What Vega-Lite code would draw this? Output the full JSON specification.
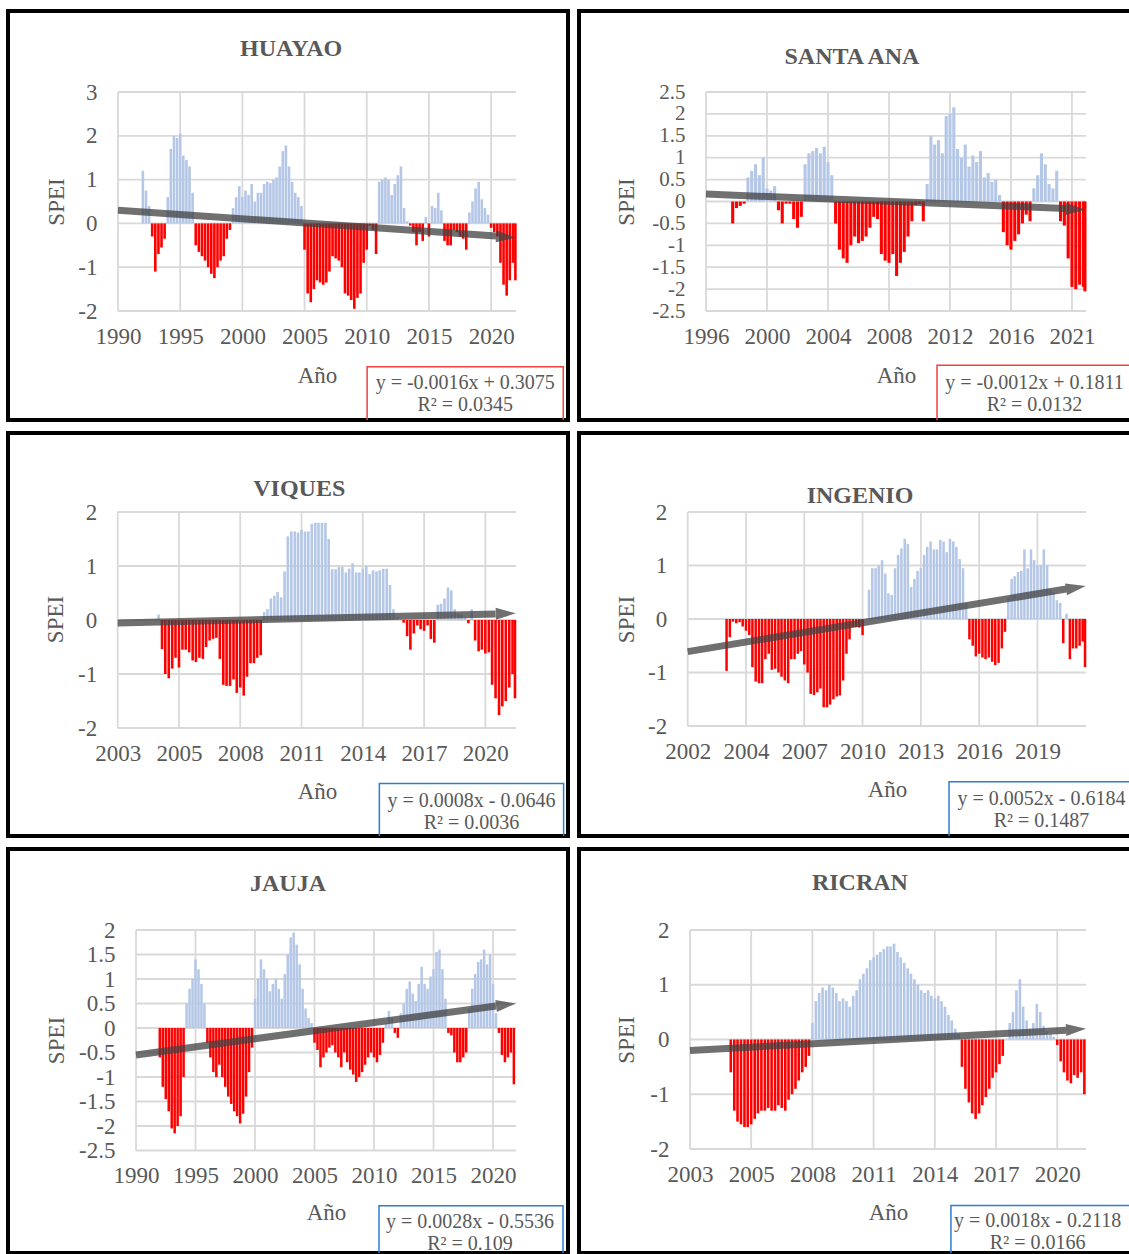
{
"$schema": "https://vega.github.io/schema/vega-lite/v6.json",
"background": "white",
"padding": {"left": 6, "top": 9, "right": 0, "bottom": 0},
"columns": 2,
"spacing": {"row": 13, "column": 11},
"align": "each",
"bounds": "flush",
"config": {
  "view": {"stroke": "#000000", "strokeWidth": 4},
  "axis": {"domain": false, "ticks": false, "tickSize": 0, "grid": false, "labelFont": "Liberation Serif", "labelFontSize": 23, "labelColor": "#595959", "titleFont": "Liberation Serif", "titleFontSize": 23, "titleFontWeight": "normal", "titleColor": "#595959", "labelFlush": false, "labelOverlap": false, "labelBound": false, "titleBaseline": "middle", "titleAlign": "center"},
  "axisX": {"labelPadding": 25, "labelBaseline": "middle"},
  "axisY": {"labelPadding": 21, "labelAlign": "right", "labelBaseline": "middle", "titleAngle": 270}
},
"datasets": {
"huayao": [{"t":1992.0,"v":1.2},{"t":1992.25,"v":0.75},{"t":1992.5,"v":0.4},{"t":1992.75,"v":-0.3},{"t":1993.0,"v":-1.1},{"t":1993.25,"v":-0.7},{"t":1993.5,"v":-0.55},{"t":1993.75,"v":-0.35},{"t":1994.0,"v":0.6},{"t":1994.25,"v":1.7},{"t":1994.5,"v":2.0},{"t":1994.75,"v":1.95},{"t":1995.0,"v":2.05},{"t":1995.25,"v":1.55},{"t":1995.5,"v":1.45},{"t":1995.75,"v":1.3},{"t":1996.0,"v":0.7},{"t":1996.25,"v":-0.5},{"t":1996.5,"v":-0.65},{"t":1996.75,"v":-0.75},{"t":1997.0,"v":-0.85},{"t":1997.25,"v":-1.0},{"t":1997.5,"v":-1.15},{"t":1997.75,"v":-1.25},{"t":1998.0,"v":-1.0},{"t":1998.25,"v":-0.85},{"t":1998.5,"v":-0.75},{"t":1998.75,"v":-0.35},{"t":1999.0,"v":-0.15},{"t":1999.25,"v":0.35},{"t":1999.5,"v":0.6},{"t":1999.75,"v":0.85},{"t":2000.0,"v":0.6},{"t":2000.25,"v":0.75},{"t":2000.5,"v":0.65},{"t":2000.75,"v":0.9},{"t":2001.0,"v":0.5},{"t":2001.25,"v":0.7},{"t":2001.5,"v":0.7},{"t":2001.75,"v":0.9},{"t":2002.0,"v":0.95},{"t":2002.25,"v":0.92},{"t":2002.5,"v":1.0},{"t":2002.75,"v":1.05},{"t":2003.0,"v":1.3},{"t":2003.25,"v":1.65},{"t":2003.5,"v":1.78},{"t":2003.75,"v":1.3},{"t":2004.0,"v":0.95},{"t":2004.25,"v":0.7},{"t":2004.5,"v":0.6},{"t":2004.75,"v":0.4},{"t":2005.0,"v":-0.6},{"t":2005.25,"v":-1.6},{"t":2005.5,"v":-1.8},{"t":2005.75,"v":-1.5},{"t":2006.0,"v":-1.3},{"t":2006.25,"v":-1.35},{"t":2006.5,"v":-1.4},{"t":2006.75,"v":-1.35},{"t":2007.0,"v":-1.1},{"t":2007.25,"v":-0.75},{"t":2007.5,"v":-0.8},{"t":2007.75,"v":-0.85},{"t":2008.0,"v":-1.0},{"t":2008.25,"v":-1.6},{"t":2008.5,"v":-1.65},{"t":2008.75,"v":-1.75},{"t":2009.0,"v":-1.95},{"t":2009.25,"v":-1.7},{"t":2009.5,"v":-1.6},{"t":2009.75,"v":-0.9},{"t":2010.0,"v":-0.6},{"t":2010.25,"v":-0.05},{"t":2010.5,"v":-0.15},{"t":2010.75,"v":-0.7},{"t":2011.0,"v":0.95},{"t":2011.25,"v":1.0},{"t":2011.5,"v":1.05},{"t":2011.75,"v":1.0},{"t":2012.0,"v":0.65},{"t":2012.25,"v":0.9},{"t":2012.5,"v":1.1},{"t":2012.75,"v":1.3},{"t":2013.0,"v":0.35},{"t":2013.25,"v":0.05},{"t":2013.5,"v":-0.05},{"t":2013.75,"v":-0.2},{"t":2014.0,"v":-0.5},{"t":2014.25,"v":-0.2},{"t":2014.5,"v":-0.4},{"t":2014.75,"v":0.15},{"t":2015.0,"v":-0.3},{"t":2015.25,"v":0.4},{"t":2015.5,"v":0.35},{"t":2015.75,"v":0.7},{"t":2016.0,"v":0.3},{"t":2016.25,"v":-0.4},{"t":2016.5,"v":-0.5},{"t":2016.75,"v":-0.5},{"t":2017.0,"v":-0.15},{"t":2017.25,"v":-0.2},{"t":2017.5,"v":-0.3},{"t":2017.75,"v":-0.35},{"t":2018.0,"v":-0.6},{"t":2018.25,"v":0.25},{"t":2018.5,"v":0.5},{"t":2018.75,"v":0.8},{"t":2019.0,"v":0.95},{"t":2019.25,"v":0.55},{"t":2019.5,"v":0.35},{"t":2019.75,"v":0.2},{"t":2020.0,"v":-0.1},{"t":2020.25,"v":-0.2},{"t":2020.5,"v":-0.3},{"t":2020.75,"v":-0.9},{"t":2021.0,"v":-1.4},{"t":2021.25,"v":-1.65},{"t":2021.5,"v":-1.3},{"t":2021.75,"v":-0.9},{"t":2021.95,"v":-1.3}],
"santaana": [{"t":1997.75,"v":-0.5},{"t":1998.0,"v":-0.15},{"t":1998.25,"v":-0.1},{"t":1998.5,"v":-0.05},{"t":1998.75,"v":0.55},{"t":1999.0,"v":0.7},{"t":1999.25,"v":0.85},{"t":1999.5,"v":0.6},{"t":1999.75,"v":1.0},{"t":2000.0,"v":0.3},{"t":2000.25,"v":0.25},{"t":2000.5,"v":0.35},{"t":2000.75,"v":-0.2},{"t":2001.0,"v":-0.5},{"t":2001.25,"v":-0.05},{"t":2001.5,"v":-0.05},{"t":2001.75,"v":-0.4},{"t":2002.0,"v":-0.6},{"t":2002.25,"v":-0.35},{"t":2002.5,"v":0.85},{"t":2002.75,"v":1.1},{"t":2003.0,"v":1.15},{"t":2003.25,"v":1.22},{"t":2003.5,"v":1.1},{"t":2003.75,"v":1.25},{"t":2004.0,"v":0.9},{"t":2004.25,"v":0.6},{"t":2004.5,"v":-0.5},{"t":2004.75,"v":-1.1},{"t":2005.0,"v":-1.3},{"t":2005.25,"v":-1.4},{"t":2005.5,"v":-1.0},{"t":2005.75,"v":-0.8},{"t":2006.0,"v":-0.95},{"t":2006.25,"v":-0.9},{"t":2006.5,"v":-0.8},{"t":2006.75,"v":-0.6},{"t":2007.0,"v":-0.35},{"t":2007.25,"v":-0.4},{"t":2007.5,"v":-1.2},{"t":2007.75,"v":-1.35},{"t":2008.0,"v":-1.4},{"t":2008.25,"v":-1.2},{"t":2008.5,"v":-1.7},{"t":2008.75,"v":-1.4},{"t":2009.0,"v":-1.15},{"t":2009.25,"v":-0.8},{"t":2009.5,"v":-0.45},{"t":2009.75,"v":-0.08},{"t":2010.0,"v":-0.06},{"t":2010.25,"v":-0.45},{"t":2010.5,"v":0.4},{"t":2010.75,"v":1.5},{"t":2011.0,"v":1.3},{"t":2011.25,"v":1.4},{"t":2011.5,"v":1.1},{"t":2011.75,"v":1.95},{"t":2012.0,"v":2.0},{"t":2012.25,"v":2.15},{"t":2012.5,"v":1.2},{"t":2012.75,"v":1.0},{"t":2013.0,"v":1.3},{"t":2013.25,"v":0.8},{"t":2013.5,"v":1.05},{"t":2013.75,"v":0.9},{"t":2014.0,"v":1.15},{"t":2014.25,"v":0.55},{"t":2014.5,"v":0.65},{"t":2014.75,"v":0.45},{"t":2015.0,"v":0.5},{"t":2015.25,"v":0.15},{"t":2015.5,"v":-0.7},{"t":2015.75,"v":-1.0},{"t":2016.0,"v":-1.1},{"t":2016.25,"v":-0.9},{"t":2016.5,"v":-0.75},{"t":2016.75,"v":-0.5},{"t":2017.0,"v":-0.3},{"t":2017.25,"v":-0.45},{"t":2017.5,"v":0.3},{"t":2017.75,"v":0.6},{"t":2018.0,"v":1.1},{"t":2018.25,"v":0.85},{"t":2018.5,"v":0.4},{"t":2018.75,"v":0.3},{"t":2019.0,"v":0.7},{"t":2019.25,"v":-0.45},{"t":2019.5,"v":-0.55},{"t":2019.75,"v":-1.3},{"t":2020.0,"v":-1.95},{"t":2020.25,"v":-2.0},{"t":2020.5,"v":-1.9},{"t":2020.75,"v":-1.95},{"t":2020.85,"v":-2.05}],
"viques": [{"t":2005.0,"v":0.1},{"t":2005.17,"v":-0.54},{"t":2005.33,"v":-1.0},{"t":2005.5,"v":-1.08},{"t":2005.67,"v":-0.9},{"t":2005.83,"v":-0.7},{"t":2006.0,"v":-0.88},{"t":2006.17,"v":-0.55},{"t":2006.33,"v":-0.55},{"t":2006.5,"v":-0.6},{"t":2006.67,"v":-0.75},{"t":2006.83,"v":-0.78},{"t":2007.0,"v":-0.7},{"t":2007.17,"v":-0.72},{"t":2007.33,"v":-0.5},{"t":2007.5,"v":-0.38},{"t":2007.67,"v":-0.35},{"t":2007.83,"v":-0.33},{"t":2008.0,"v":-0.72},{"t":2008.17,"v":-1.2},{"t":2008.33,"v":-1.22},{"t":2008.5,"v":-1.22},{"t":2008.67,"v":-1.1},{"t":2008.83,"v":-1.35},{"t":2009.0,"v":-1.25},{"t":2009.17,"v":-1.4},{"t":2009.33,"v":-1.05},{"t":2009.5,"v":-0.8},{"t":2009.67,"v":-0.8},{"t":2009.83,"v":-0.7},{"t":2010.0,"v":-0.65},{"t":2010.17,"v":0.15},{"t":2010.33,"v":0.2},{"t":2010.5,"v":0.4},{"t":2010.67,"v":0.45},{"t":2010.83,"v":0.52},{"t":2011.0,"v":0.42},{"t":2011.17,"v":0.9},{"t":2011.33,"v":1.55},{"t":2011.5,"v":1.64},{"t":2011.67,"v":1.64},{"t":2011.83,"v":1.62},{"t":2012.0,"v":1.67},{"t":2012.17,"v":1.64},{"t":2012.33,"v":1.64},{"t":2012.5,"v":1.78},{"t":2012.67,"v":1.8},{"t":2012.83,"v":1.8},{"t":2013.0,"v":1.8},{"t":2013.17,"v":1.8},{"t":2013.33,"v":1.5},{"t":2013.5,"v":0.94},{"t":2013.67,"v":0.94},{"t":2013.83,"v":0.98},{"t":2014.0,"v":0.98},{"t":2014.17,"v":0.88},{"t":2014.33,"v":0.95},{"t":2014.5,"v":1.05},{"t":2014.67,"v":0.88},{"t":2014.83,"v":0.88},{"t":2015.0,"v":0.95},{"t":2015.17,"v":1.0},{"t":2015.33,"v":0.85},{"t":2015.5,"v":0.92},{"t":2015.67,"v":0.9},{"t":2015.83,"v":0.92},{"t":2016.0,"v":0.95},{"t":2016.17,"v":0.95},{"t":2016.33,"v":0.65},{"t":2016.5,"v":0.2},{"t":2016.67,"v":0.05},{"t":2017.0,"v":-0.05},{"t":2017.17,"v":-0.3},{"t":2017.33,"v":-0.55},{"t":2017.5,"v":-0.25},{"t":2017.67,"v":-0.1},{"t":2017.83,"v":-0.17},{"t":2018.0,"v":-0.2},{"t":2018.17,"v":-0.1},{"t":2018.33,"v":-0.35},{"t":2018.5,"v":-0.42},{"t":2018.67,"v":0.28},{"t":2018.83,"v":0.3},{"t":2019.0,"v":0.4},{"t":2019.17,"v":0.6},{"t":2019.33,"v":0.55},{"t":2019.5,"v":0.2},{"t":2019.67,"v":0.12},{"t":2019.83,"v":0.1},{"t":2020.0,"v":0.05},{"t":2020.17,"v":-0.06},{"t":2020.33,"v":0.2},{"t":2020.5,"v":-0.38},{"t":2020.67,"v":-0.58},{"t":2020.83,"v":-0.55},{"t":2021.0,"v":-0.62},{"t":2021.17,"v":-0.6},{"t":2021.33,"v":-1.2},{"t":2021.5,"v":-1.45},{"t":2021.67,"v":-1.76},{"t":2021.83,"v":-1.6},{"t":2022.0,"v":-1.5},{"t":2022.17,"v":-1.25},{"t":2022.33,"v":-1.0},{"t":2022.45,"v":-1.45}],
"ingenio": [{"t":2004.0,"v":-0.97},{"t":2004.17,"v":-0.34},{"t":2004.33,"v":-0.05},{"t":2004.5,"v":-0.08},{"t":2004.67,"v":-0.06},{"t":2004.83,"v":-0.14},{"t":2005.0,"v":-0.22},{"t":2005.17,"v":-0.3},{"t":2005.33,"v":-0.9},{"t":2005.5,"v":-1.17},{"t":2005.67,"v":-1.2},{"t":2005.83,"v":-1.2},{"t":2006.0,"v":-0.75},{"t":2006.17,"v":-0.65},{"t":2006.33,"v":-0.95},{"t":2006.5,"v":-0.93},{"t":2006.67,"v":-1.0},{"t":2006.83,"v":-1.08},{"t":2007.0,"v":-1.15},{"t":2007.17,"v":-1.2},{"t":2007.33,"v":-0.75},{"t":2007.5,"v":-0.75},{"t":2007.67,"v":-0.65},{"t":2007.83,"v":-0.6},{"t":2008.0,"v":-0.85},{"t":2008.17,"v":-1.0},{"t":2008.33,"v":-1.4},{"t":2008.5,"v":-1.42},{"t":2008.67,"v":-1.37},{"t":2008.83,"v":-1.3},{"t":2009.0,"v":-1.65},{"t":2009.17,"v":-1.65},{"t":2009.33,"v":-1.6},{"t":2009.5,"v":-1.5},{"t":2009.67,"v":-1.45},{"t":2009.83,"v":-1.43},{"t":2010.0,"v":-1.15},{"t":2010.17,"v":-0.65},{"t":2010.33,"v":-0.38},{"t":2010.5,"v":-0.15},{"t":2010.67,"v":-0.15},{"t":2010.83,"v":-0.16},{"t":2011.0,"v":-0.3},{"t":2011.33,"v":0.55},{"t":2011.5,"v":0.95},{"t":2011.67,"v":0.95},{"t":2011.83,"v":1.0},{"t":2012.0,"v":1.1},{"t":2012.17,"v":0.85},{"t":2012.33,"v":0.48},{"t":2012.5,"v":0.45},{"t":2012.67,"v":0.95},{"t":2012.83,"v":1.2},{"t":2013.0,"v":1.32},{"t":2013.17,"v":1.5},{"t":2013.33,"v":1.4},{"t":2013.5,"v":0.6},{"t":2013.67,"v":0.75},{"t":2013.83,"v":0.9},{"t":2014.0,"v":0.95},{"t":2014.17,"v":1.2},{"t":2014.33,"v":1.35},{"t":2014.5,"v":1.45},{"t":2014.67,"v":1.3},{"t":2014.83,"v":1.3},{"t":2015.0,"v":1.48},{"t":2015.17,"v":1.45},{"t":2015.33,"v":1.25},{"t":2015.5,"v":1.5},{"t":2015.67,"v":1.45},{"t":2015.83,"v":1.35},{"t":2016.0,"v":1.12},{"t":2016.17,"v":0.95},{"t":2016.33,"v":0.3},{"t":2016.5,"v":-0.38},{"t":2016.67,"v":-0.5},{"t":2016.83,"v":-0.7},{"t":2017.0,"v":-0.65},{"t":2017.17,"v":-0.72},{"t":2017.33,"v":-0.75},{"t":2017.5,"v":-0.72},{"t":2017.67,"v":-0.8},{"t":2017.83,"v":-0.86},{"t":2018.0,"v":-0.82},{"t":2018.17,"v":-0.55},{"t":2018.33,"v":-0.24},{"t":2018.5,"v":0.4},{"t":2018.67,"v":0.75},{"t":2018.83,"v":0.8},{"t":2019.0,"v":0.88},{"t":2019.17,"v":0.9},{"t":2019.33,"v":1.3},{"t":2019.5,"v":0.95},{"t":2019.67,"v":1.3},{"t":2019.83,"v":1.1},{"t":2020.0,"v":1.0},{"t":2020.17,"v":1.0},{"t":2020.33,"v":1.3},{"t":2020.5,"v":1.0},{"t":2020.67,"v":0.55},{"t":2020.83,"v":0.5},{"t":2021.0,"v":0.35},{"t":2021.17,"v":0.3},{"t":2021.33,"v":-0.45},{"t":2021.5,"v":0.1},{"t":2021.67,"v":-0.75},{"t":2021.83,"v":-0.55},{"t":2022.0,"v":-0.55},{"t":2022.17,"v":-0.5},{"t":2022.33,"v":-0.42},{"t":2022.45,"v":-0.9}],
"jauja": [{"t":1992.0,"v":-0.6},{"t":1992.25,"v":-1.2},{"t":1992.5,"v":-1.45},{"t":1992.75,"v":-1.7},{"t":1993.0,"v":-2.05},{"t":1993.25,"v":-2.15},{"t":1993.5,"v":-2.0},{"t":1993.75,"v":-1.8},{"t":1994.0,"v":-1.0},{"t":1994.25,"v":0.5},{"t":1994.5,"v":0.8},{"t":1994.75,"v":1.0},{"t":1995.0,"v":1.4},{"t":1995.25,"v":1.2},{"t":1995.5,"v":0.9},{"t":1995.75,"v":0.5},{"t":1996.0,"v":-0.3},{"t":1996.25,"v":-0.6},{"t":1996.5,"v":-0.9},{"t":1996.75,"v":-1.0},{"t":1997.0,"v":-0.75},{"t":1997.25,"v":-1.0},{"t":1997.5,"v":-1.2},{"t":1997.75,"v":-1.4},{"t":1998.0,"v":-1.55},{"t":1998.25,"v":-1.7},{"t":1998.5,"v":-1.8},{"t":1998.75,"v":-1.95},{"t":1999.0,"v":-1.75},{"t":1999.25,"v":-1.4},{"t":1999.5,"v":-0.9},{"t":1999.75,"v":-0.4},{"t":2000.0,"v":0.6},{"t":2000.25,"v":1.0},{"t":2000.5,"v":1.4},{"t":2000.75,"v":1.2},{"t":2001.0,"v":1.0},{"t":2001.25,"v":0.75},{"t":2001.5,"v":0.9},{"t":2001.75,"v":1.0},{"t":2002.0,"v":0.8},{"t":2002.25,"v":0.6},{"t":2002.5,"v":1.1},{"t":2002.75,"v":1.5},{"t":2003.0,"v":1.85},{"t":2003.25,"v":1.95},{"t":2003.5,"v":1.7},{"t":2003.75,"v":1.3},{"t":2004.0,"v":0.8},{"t":2004.25,"v":0.4},{"t":2004.5,"v":0.2},{"t":2004.75,"v":0.1},{"t":2005.0,"v":-0.3},{"t":2005.25,"v":-0.45},{"t":2005.5,"v":-0.8},{"t":2005.75,"v":-0.6},{"t":2006.0,"v":-0.5},{"t":2006.25,"v":-0.4},{"t":2006.5,"v":-0.35},{"t":2006.75,"v":-0.5},{"t":2007.0,"v":-0.6},{"t":2007.25,"v":-0.8},{"t":2007.5,"v":-0.5},{"t":2007.75,"v":-0.7},{"t":2008.0,"v":-0.85},{"t":2008.25,"v":-0.95},{"t":2008.5,"v":-1.1},{"t":2008.75,"v":-1.0},{"t":2009.0,"v":-0.9},{"t":2009.25,"v":-0.75},{"t":2009.5,"v":-0.6},{"t":2009.75,"v":-0.5},{"t":2010.0,"v":-0.6},{"t":2010.25,"v":-0.7},{"t":2010.5,"v":-0.55},{"t":2010.75,"v":-0.3},{"t":2011.0,"v":0.1},{"t":2011.25,"v":0.35},{"t":2011.5,"v":0.2},{"t":2011.75,"v":-0.1},{"t":2012.0,"v":-0.2},{"t":2012.25,"v":0.3},{"t":2012.5,"v":0.5},{"t":2012.75,"v":0.8},{"t":2013.0,"v":0.95},{"t":2013.25,"v":0.7},{"t":2013.5,"v":0.55},{"t":2013.75,"v":0.9},{"t":2014.0,"v":1.25},{"t":2014.25,"v":0.9},{"t":2014.5,"v":0.8},{"t":2014.75,"v":1.05},{"t":2015.0,"v":1.2},{"t":2015.25,"v":1.55},{"t":2015.5,"v":1.6},{"t":2015.75,"v":1.2},{"t":2016.0,"v":0.6},{"t":2016.25,"v":-0.1},{"t":2016.5,"v":-0.15},{"t":2016.75,"v":-0.5},{"t":2017.0,"v":-0.7},{"t":2017.25,"v":-0.7},{"t":2017.5,"v":-0.6},{"t":2017.75,"v":-0.5},{"t":2018.0,"v":0.4},{"t":2018.25,"v":0.8},{"t":2018.5,"v":1.1},{"t":2018.75,"v":1.35},{"t":2019.0,"v":1.4},{"t":2019.25,"v":1.6},{"t":2019.5,"v":1.3},{"t":2019.75,"v":1.5},{"t":2020.0,"v":0.9},{"t":2020.25,"v":0.3},{"t":2020.5,"v":-0.1},{"t":2020.75,"v":-0.55},{"t":2021.0,"v":-0.7},{"t":2021.25,"v":-0.6},{"t":2021.5,"v":-0.5},{"t":2021.75,"v":-1.15}],
"ricran": [{"t":2005.0,"v":-0.6},{"t":2005.17,"v":-1.3},{"t":2005.33,"v":-1.5},{"t":2005.5,"v":-1.55},{"t":2005.67,"v":-1.6},{"t":2005.83,"v":-1.6},{"t":2006.0,"v":-1.55},{"t":2006.17,"v":-1.45},{"t":2006.33,"v":-1.35},{"t":2006.5,"v":-1.3},{"t":2006.67,"v":-1.3},{"t":2006.83,"v":-1.25},{"t":2007.0,"v":-1.3},{"t":2007.17,"v":-1.3},{"t":2007.33,"v":-1.2},{"t":2007.5,"v":-1.25},{"t":2007.67,"v":-1.3},{"t":2007.83,"v":-1.1},{"t":2008.0,"v":-1.0},{"t":2008.17,"v":-0.9},{"t":2008.33,"v":-0.75},{"t":2008.5,"v":-0.6},{"t":2008.67,"v":-0.5},{"t":2008.83,"v":-0.3},{"t":2009.0,"v":0.3},{"t":2009.17,"v":0.7},{"t":2009.33,"v":0.85},{"t":2009.5,"v":0.95},{"t":2009.67,"v":0.9},{"t":2009.83,"v":1.0},{"t":2010.0,"v":0.95},{"t":2010.17,"v":0.85},{"t":2010.33,"v":0.7},{"t":2010.5,"v":0.75},{"t":2010.67,"v":0.7},{"t":2010.83,"v":0.6},{"t":2011.0,"v":0.8},{"t":2011.17,"v":0.9},{"t":2011.33,"v":1.1},{"t":2011.5,"v":1.2},{"t":2011.67,"v":1.3},{"t":2011.83,"v":1.45},{"t":2012.0,"v":1.5},{"t":2012.17,"v":1.55},{"t":2012.33,"v":1.6},{"t":2012.5,"v":1.65},{"t":2012.67,"v":1.7},{"t":2012.83,"v":1.7},{"t":2013.0,"v":1.75},{"t":2013.17,"v":1.6},{"t":2013.33,"v":1.5},{"t":2013.5,"v":1.4},{"t":2013.67,"v":1.3},{"t":2013.83,"v":1.2},{"t":2014.0,"v":1.1},{"t":2014.17,"v":1.0},{"t":2014.33,"v":0.9},{"t":2014.5,"v":0.85},{"t":2014.67,"v":0.9},{"t":2014.83,"v":0.8},{"t":2015.0,"v":0.75},{"t":2015.17,"v":0.8},{"t":2015.33,"v":0.7},{"t":2015.5,"v":0.6},{"t":2015.67,"v":0.45},{"t":2015.83,"v":0.35},{"t":2016.0,"v":0.2},{"t":2016.17,"v":0.1},{"t":2016.33,"v":-0.5},{"t":2016.5,"v":-0.9},{"t":2016.67,"v":-1.15},{"t":2016.83,"v":-1.35},{"t":2017.0,"v":-1.45},{"t":2017.17,"v":-1.35},{"t":2017.33,"v":-1.2},{"t":2017.5,"v":-1.05},{"t":2017.67,"v":-0.9},{"t":2017.83,"v":-0.7},{"t":2018.0,"v":-0.6},{"t":2018.17,"v":-0.45},{"t":2018.33,"v":-0.3},{"t":2018.67,"v":0.3},{"t":2018.83,"v":0.5},{"t":2019.0,"v":0.9},{"t":2019.17,"v":1.1},{"t":2019.33,"v":0.6},{"t":2019.5,"v":0.35},{"t":2019.67,"v":0.2},{"t":2019.83,"v":0.3},{"t":2020.0,"v":0.65},{"t":2020.17,"v":0.5},{"t":2020.33,"v":0.25},{"t":2020.5,"v":0.15},{"t":2020.67,"v":0.1},{"t":2020.83,"v":0.05},{"t":2021.0,"v":-0.1},{"t":2021.17,"v":-0.4},{"t":2021.33,"v":-0.6},{"t":2021.5,"v":-0.75},{"t":2021.67,"v":-0.8},{"t":2021.83,"v":-0.65},{"t":2022.0,"v":-0.7},{"t":2022.17,"v":-0.6},{"t":2022.33,"v":-1.0}]
},
"concat": [
{
 "width": 560, "height": 409,
 "layer": [
  {"data": {"values": [{"g":1990},{"g":1995},{"g":2000},{"g":2005},{"g":2010},{"g":2015},{"g":2020}]}, "mark": {"type": "rule", "color": "#d9d9d9", "strokeWidth": 1.8}, "encoding": {"x": {"field": "g", "type": "quantitative"}, "y": {"datum": -2}, "y2": {"datum": 3}}},
  {"data": {"values": [{"g":-2},{"g":-1},{"g":0},{"g":1},{"g":2},{"g":3}]}, "mark": {"type": "rule", "color": "#d9d9d9", "strokeWidth": 1.8}, "encoding": {"y": {"field": "g", "type": "quantitative"}, "x": {"datum": 1990}, "x2": {"datum": 2022}}},
  {"data": {"name": "huayao"}, "mark": {"type": "bar", "width": 2.6},
   "encoding": {
    "x": {"field": "t", "type": "quantitative", "scale": {"domain": [1990, 2022], "range": [110, 508], "padding": 0, "nice": false, "zero": false}, "axis": {"title": "Año", "values": [1990,1995,2000,2005,2010,2015,2020], "offset": -109, "titleX": 309, "titleY": 64, "labelExpr": "toString(datum.value)"}},
    "y": {"field": "v", "type": "quantitative", "scale": {"domain": [-2, 3], "range": [300, 81], "nice": false, "zero": false}, "axis": {"title": "SPEI", "values": [-2,-1,0,1,2,3], "offset": -110, "titleX": -62, "titleY": 190.5, "labelExpr": "toString(datum.value)"}},
    "y2": {"datum": 0},
    "color": {"condition": {"test": "datum.v > 0", "value": "#b4c7e7"}, "value": "#ff0000"}}},
  {"data": {"values": [{"t":1990,"v":0.3},{"t":2020.4,"v":-0.29}]}, "mark": {"type": "line", "color": "#404040", "opacity": 0.75, "strokeWidth": 7, "strokeCap": "butt"}, "encoding": {"x": {"field": "t", "type": "quantitative"}, "y": {"field": "v", "type": "quantitative"}}},
  {"data": {"values": [{}]}, "mark": {"type": "point", "shape": "M-1,-0.6L1,0L-1,0.6Z", "size": 400, "filled": true, "color": "#404040", "opacity": 0.75, "angle": 3.9}, "encoding": {"x": {"datum": 2021.2}, "y": {"datum": -0.31}}},
  {"data": {"values": [{}]}, "mark": {"type": "text", "text": "HUAYAO", "font": "Liberation Serif", "fontSize": 24, "fontWeight": "bold", "color": "#595959", "align": "center", "baseline": "middle"}, "encoding": {"x": {"datum": 2003.92}, "y": {"datum": 3.98}}},
  {"data": {"values": [{}]}, "mark": {"type": "rect", "filled": false, "stroke": "#f04040", "strokeWidth": 1.5, "clip": true}, "encoding": {"x": {"datum": 2010.03}, "x2": {"datum": 2025.8}, "y": {"datum": -3.27}, "y2": {"datum": -6}}},
  {"data": {"values": [{}]}, "mark": {"type": "text", "text": "y = -0.0016x + 0.3075", "font": "Liberation Serif", "fontSize": 20, "color": "#595959", "align": "center", "baseline": "middle"}, "encoding": {"x": {"datum": 2017.92}, "y": {"datum": -3.65}}},
  {"data": {"values": [{}]}, "mark": {"type": "text", "text": "R² = 0.0345", "font": "Liberation Serif", "fontSize": 20, "color": "#595959", "align": "center", "baseline": "middle"}, "encoding": {"x": {"datum": 2017.92}, "y": {"datum": -4.15}}}
 ]
},
{
 "width": 556, "height": 409,
 "layer": [
  {"data": {"values": [{"g":1996},{"g":2000},{"g":2004},{"g":2008},{"g":2012},{"g":2016},{"g":2020}]}, "mark": {"type": "rule", "color": "#d9d9d9", "strokeWidth": 1.8}, "encoding": {"x": {"field": "g", "type": "quantitative"}, "y": {"datum": -2.5}, "y2": {"datum": 2.5}}},
  {"data": {"values": [{"g":-2.5},{"g":-2},{"g":-1.5},{"g":-1},{"g":-0.5},{"g":0},{"g":0.5},{"g":1},{"g":1.5},{"g":2},{"g":2.5}]}, "mark": {"type": "rule", "color": "#d9d9d9", "strokeWidth": 1.8}, "encoding": {"y": {"field": "g", "type": "quantitative"}, "x": {"datum": 1996}, "x2": {"datum": 2020.92}}},
  {"data": {"name": "santaana"}, "mark": {"type": "bar", "width": 3.1},
   "encoding": {
    "x": {"field": "t", "type": "quantitative", "scale": {"domain": [1996, 2020.92], "range": [127, 507], "padding": 0, "nice": false, "zero": false}, "axis": {"title": "Año", "values": [1996,2000,2004,2008,2012,2016,2020], "offset": -109, "titleX": 317, "titleY": 64, "labelExpr": "datum.value == 2020 ? '2021' : toString(datum.value)"}},
    "y": {"field": "v", "type": "quantitative", "scale": {"domain": [-2.5, 2.5], "range": [300, 81], "nice": false, "zero": false}, "axis": {"title": "SPEI", "values": [-2.5,-2,-1.5,-1,-0.5,0,0.5,1,1.5,2,2.5], "offset": -127, "titleX": -80, "titleY": 190.5, "labelFontSize": 21, "labelExpr": "toString(datum.value)"}},
    "y2": {"datum": 0},
    "color": {"condition": {"test": "datum.v > 0", "value": "#b4c7e7"}, "value": "#ff0000"}}},
  {"data": {"values": [{"t":1996,"v":0.17},{"t":2019.6,"v":-0.16}]}, "mark": {"type": "line", "color": "#404040", "opacity": 0.75, "strokeWidth": 7, "strokeCap": "butt"}, "encoding": {"x": {"field": "t", "type": "quantitative"}, "y": {"field": "v", "type": "quantitative"}}},
  {"data": {"values": [{}]}, "mark": {"type": "point", "shape": "M-1,-0.6L1,0L-1,0.6Z", "size": 400, "filled": true, "color": "#404040", "opacity": 0.75, "angle": 2.3}, "encoding": {"x": {"datum": 2020.26}, "y": {"datum": -0.18}}},
  {"data": {"values": [{}]}, "mark": {"type": "text", "text": "SANTA ANA", "font": "Liberation Serif", "fontSize": 24, "fontWeight": "bold", "color": "#595959", "align": "center", "baseline": "middle"}, "encoding": {"x": {"datum": 2005.57}, "y": {"datum": 3.3}}},
  {"data": {"values": [{}]}, "mark": {"type": "rect", "filled": false, "stroke": "#f04040", "strokeWidth": 1.5, "clip": true}, "encoding": {"x": {"datum": 2011.15}, "x2": {"datum": 2030}, "y": {"datum": -3.74}, "y2": {"datum": -7}}},
  {"data": {"values": [{}]}, "mark": {"type": "text", "text": "y = -0.0012x + 0.1811", "font": "Liberation Serif", "fontSize": 20, "color": "#595959", "align": "center", "baseline": "middle"}, "encoding": {"x": {"datum": 2017.54}, "y": {"datum": -4.15}}},
  {"data": {"values": [{}]}, "mark": {"type": "text", "text": "R² = 0.0132", "font": "Liberation Serif", "fontSize": 20, "color": "#595959", "align": "center", "baseline": "middle"}, "encoding": {"x": {"datum": 2017.54}, "y": {"datum": -4.65}}}
 ]
},
{
 "width": 560, "height": 403,
 "layer": [
  {"data": {"values": [{"g":2003},{"g":2006},{"g":2009},{"g":2012},{"g":2015},{"g":2018},{"g":2021}]}, "mark": {"type": "rule", "color": "#d9d9d9", "strokeWidth": 1.8}, "encoding": {"x": {"field": "g", "type": "quantitative"}, "y": {"datum": -2}, "y2": {"datum": 2}}},
  {"data": {"values": [{"g":-2},{"g":-1},{"g":0},{"g":1},{"g":2}]}, "mark": {"type": "rule", "color": "#d9d9d9", "strokeWidth": 1.8}, "encoding": {"y": {"field": "g", "type": "quantitative"}, "x": {"datum": 2003}, "x2": {"datum": 2022.5}}},
  {"data": {"name": "viques"}, "mark": {"type": "bar", "width": 2.6},
   "encoding": {
    "x": {"field": "t", "type": "quantitative", "scale": {"domain": [2003, 2022.5], "range": [109.7, 508], "padding": 0, "nice": false, "zero": false}, "axis": {"title": "Año", "values": [2003,2006,2009,2012,2015,2018,2021], "offset": -108, "titleX": 309, "titleY": 63, "labelExpr": "datum.value == 2003 ? '2003' : toString(datum.value - 1)"}},
    "y": {"field": "v", "type": "quantitative", "scale": {"domain": [-2, 2], "range": [295, 79], "nice": false, "zero": false}, "axis": {"title": "SPEI", "values": [-2,-1,0,1,2], "offset": -109.7, "titleX": -61.7, "titleY": 186, "labelExpr": "toString(datum.value)"}},
    "y2": {"datum": 0},
    "color": {"condition": {"test": "datum.v > 0", "value": "#b4c7e7"}, "value": "#ff0000"}}},
  {"data": {"values": [{"t":2003,"v":-0.055},{"t":2021.5,"v":0.11}]}, "mark": {"type": "line", "color": "#404040", "opacity": 0.75, "strokeWidth": 7, "strokeCap": "butt"}, "encoding": {"x": {"field": "t", "type": "quantitative"}, "y": {"field": "v", "type": "quantitative"}}},
  {"data": {"values": [{}]}, "mark": {"type": "point", "shape": "M-1,-0.6L1,0L-1,0.6Z", "size": 400, "filled": true, "color": "#404040", "opacity": 0.75, "angle": -1.35}, "encoding": {"x": {"datum": 2022.0}, "y": {"datum": 0.12}}},
  {"data": {"values": [{}]}, "mark": {"type": "text", "text": "VIQUES", "font": "Liberation Serif", "fontSize": 24, "fontWeight": "bold", "color": "#595959", "align": "center", "baseline": "middle"}, "encoding": {"x": {"datum": 2011.89}, "y": {"datum": 2.43}}},
  {"data": {"values": [{}]}, "mark": {"type": "rect", "filled": false, "stroke": "#2e7dd1", "strokeWidth": 1.5, "clip": true}, "encoding": {"x": {"datum": 2015.81}, "x2": {"datum": 2024.83}, "y": {"datum": -3.03}, "y2": {"datum": -6}}},
  {"data": {"values": [{}]}, "mark": {"type": "text", "text": "y = 0.0008x - 0.0646", "font": "Liberation Serif", "fontSize": 20, "color": "#595959", "align": "center", "baseline": "middle"}, "encoding": {"x": {"datum": 2020.32}, "y": {"datum": -3.35}}},
  {"data": {"values": [{}]}, "mark": {"type": "text", "text": "R² = 0.0036", "font": "Liberation Serif", "fontSize": 20, "color": "#595959", "align": "center", "baseline": "middle"}, "encoding": {"x": {"datum": 2020.32}, "y": {"datum": -3.75}}}
 ]
},
{
 "width": 556, "height": 403,
 "layer": [
  {"data": {"values": [{"g":2002},{"g":2005},{"g":2008},{"g":2011},{"g":2014},{"g":2017},{"g":2020}]}, "mark": {"type": "rule", "color": "#d9d9d9", "strokeWidth": 1.8}, "encoding": {"x": {"field": "g", "type": "quantitative"}, "y": {"datum": -2}, "y2": {"datum": 2}}},
  {"data": {"values": [{"g":-2},{"g":-1},{"g":0},{"g":1},{"g":2}]}, "mark": {"type": "rule", "color": "#d9d9d9", "strokeWidth": 1.8}, "encoding": {"y": {"field": "g", "type": "quantitative"}, "x": {"datum": 2002}, "x2": {"datum": 2022.5}}},
  {"data": {"name": "ingenio"}, "mark": {"type": "bar", "width": 2.5},
   "encoding": {
    "x": {"field": "t", "type": "quantitative", "scale": {"domain": [2002, 2022.5], "range": [108.7, 507], "padding": 0, "nice": false, "zero": false}, "axis": {"title": "Año", "values": [2002,2005,2008,2011,2014,2017,2020], "offset": -110, "titleX": 308, "titleY": 63, "labelExpr": "datum.value == 2002 ? '2002' : toString(datum.value - 1)"}},
    "y": {"field": "v", "type": "quantitative", "scale": {"domain": [-2, 2], "range": [293, 79], "nice": false, "zero": false}, "axis": {"title": "SPEI", "values": [-2,-1,0,1,2], "offset": -108.7, "titleX": -61.7, "titleY": 186, "labelExpr": "toString(datum.value)"}},
    "y2": {"datum": 0},
    "color": {"condition": {"test": "datum.v > 0", "value": "#b4c7e7"}, "value": "#ff0000"}}},
  {"data": {"values": [{"t":2002,"v":-0.61},{"t":2021.48,"v":0.56}]}, "mark": {"type": "line", "color": "#404040", "opacity": 0.75, "strokeWidth": 7, "strokeCap": "butt"}, "encoding": {"x": {"field": "t", "type": "quantitative"}, "y": {"field": "v", "type": "quantitative"}}},
  {"data": {"values": [{}]}, "mark": {"type": "point", "shape": "M-1,-0.6L1,0L-1,0.6Z", "size": 400, "filled": true, "color": "#404040", "opacity": 0.75, "angle": -9.4}, "encoding": {"x": {"datum": 2021.98}, "y": {"datum": 0.585}}},
  {"data": {"values": [{}]}, "mark": {"type": "text", "text": "INGENIO", "font": "Liberation Serif", "fontSize": 24, "fontWeight": "bold", "color": "#595959", "align": "center", "baseline": "middle"}, "encoding": {"x": {"datum": 2010.87}, "y": {"datum": 2.29}}},
  {"data": {"values": [{}]}, "mark": {"type": "rect", "filled": false, "stroke": "#2e7dd1", "strokeWidth": 1.5, "clip": true}, "encoding": {"x": {"datum": 2015.45}, "x2": {"datum": 2030}, "y": {"datum": -3.04}, "y2": {"datum": -6}}},
  {"data": {"values": [{}]}, "mark": {"type": "text", "text": "y = 0.0052x - 0.6184", "font": "Liberation Serif", "fontSize": 20, "color": "#595959", "align": "center", "baseline": "middle"}, "encoding": {"x": {"datum": 2020.21}, "y": {"datum": -3.36}}},
  {"data": {"values": [{}]}, "mark": {"type": "text", "text": "R² = 0.1487", "font": "Liberation Serif", "fontSize": 20, "color": "#595959", "align": "center", "baseline": "middle"}, "encoding": {"x": {"datum": 2020.21}, "y": {"datum": -3.77}}}
 ]
},
{
 "width": 560, "height": 404,
 "layer": [
  {"data": {"values": [{"g":1990},{"g":1995},{"g":2000},{"g":2005},{"g":2010},{"g":2015},{"g":2020}]}, "mark": {"type": "rule", "color": "#d9d9d9", "strokeWidth": 1.8}, "encoding": {"x": {"field": "g", "type": "quantitative"}, "y": {"datum": -2.5}, "y2": {"datum": 2}}},
  {"data": {"values": [{"g":-2.5},{"g":-2},{"g":-1.5},{"g":-1},{"g":-0.5},{"g":0},{"g":0.5},{"g":1},{"g":1.5},{"g":2}]}, "mark": {"type": "rule", "color": "#d9d9d9", "strokeWidth": 1.8}, "encoding": {"y": {"field": "g", "type": "quantitative"}, "x": {"datum": 1990}, "x2": {"datum": 2021.93}}},
  {"data": {"name": "jauja"}, "mark": {"type": "bar", "width": 2.5},
   "encoding": {
    "x": {"field": "t", "type": "quantitative", "scale": {"domain": [1990, 2021.93], "range": [128, 508], "padding": 0, "nice": false, "zero": false}, "axis": {"title": "Año", "values": [1990,1995,2000,2005,2010,2015,2020], "offset": -102.5, "titleX": 318, "titleY": 61.5, "labelExpr": "toString(datum.value)"}},
    "y": {"field": "v", "type": "quantitative", "scale": {"domain": [-2.5, 2], "range": [301.5, 81], "nice": false, "zero": false}, "axis": {"title": "SPEI", "values": [-2.5,-2,-1.5,-1,-0.5,0,0.5,1,1.5,2], "offset": -128, "titleX": -80, "titleY": 191, "labelExpr": "toString(datum.value)"}},
    "y2": {"datum": 0},
    "color": {"condition": {"test": "datum.v > 0", "value": "#b4c7e7"}, "value": "#ff0000"}}},
  {"data": {"values": [{"t":1990,"v":-0.55},{"t":2020.25,"v":0.45}]}, "mark": {"type": "line", "color": "#404040", "opacity": 0.75, "strokeWidth": 7, "strokeCap": "butt"}, "encoding": {"x": {"field": "t", "type": "quantitative"}, "y": {"field": "v", "type": "quantitative"}}},
  {"data": {"values": [{}]}, "mark": {"type": "point", "shape": "M-1,-0.6L1,0L-1,0.6Z", "size": 400, "filled": true, "color": "#404040", "opacity": 0.75, "angle": -7.7}, "encoding": {"x": {"datum": 2021.09}, "y": {"datum": 0.475}}},
  {"data": {"values": [{}]}, "mark": {"type": "text", "text": "JAUJA", "font": "Liberation Serif", "fontSize": 24, "fontWeight": "bold", "color": "#595959", "align": "center", "baseline": "middle"}, "encoding": {"x": {"datum": 2002.77}, "y": {"datum": 2.94}}},
  {"data": {"values": [{}]}, "mark": {"type": "rect", "filled": false, "stroke": "#2e7dd1", "strokeWidth": 1.5, "clip": true}, "encoding": {"x": {"datum": 2010.42}, "x2": {"datum": 2025.88}, "y": {"datum": -3.63}, "y2": {"datum": -6}}},
  {"data": {"values": [{}]}, "mark": {"type": "text", "text": "y = 0.0028x - 0.5536", "font": "Liberation Serif", "fontSize": 20, "color": "#595959", "align": "center", "baseline": "middle"}, "encoding": {"x": {"datum": 2018.07}, "y": {"datum": -3.96}}},
  {"data": {"values": [{}]}, "mark": {"type": "text", "text": "R² = 0.109", "font": "Liberation Serif", "fontSize": 20, "color": "#595959", "align": "center", "baseline": "middle"}, "encoding": {"x": {"datum": 2018.07}, "y": {"datum": -4.41}}}
 ]
},
{
 "width": 556, "height": 404,
 "layer": [
  {"data": {"values": [{"g":2003},{"g":2006},{"g":2009},{"g":2012},{"g":2015},{"g":2018},{"g":2021}]}, "mark": {"type": "rule", "color": "#d9d9d9", "strokeWidth": 1.8}, "encoding": {"x": {"field": "g", "type": "quantitative"}, "y": {"datum": -2}, "y2": {"datum": 2}}},
  {"data": {"values": [{"g":-2},{"g":-1},{"g":0},{"g":1},{"g":2}]}, "mark": {"type": "rule", "color": "#d9d9d9", "strokeWidth": 1.8}, "encoding": {"y": {"field": "g", "type": "quantitative"}, "x": {"datum": 2003}, "x2": {"datum": 2022.41}}},
  {"data": {"name": "ricran"}, "mark": {"type": "bar", "width": 2.6},
   "encoding": {
    "x": {"field": "t", "type": "quantitative", "scale": {"domain": [2003, 2022.41], "range": [111, 507], "padding": 0, "nice": false, "zero": false}, "axis": {"title": "Año", "values": [2003,2006,2009,2012,2015,2018,2021], "offset": -104, "titleX": 309, "titleY": 63, "labelExpr": "datum.value == 2003 ? '2003' : toString(datum.value - 1)"}},
    "y": {"field": "v", "type": "quantitative", "scale": {"domain": [-2, 2], "range": [300, 81], "nice": false, "zero": false}, "axis": {"title": "SPEI", "values": [-2,-1,0,1,2], "offset": -111, "titleX": -64, "titleY": 190.5, "labelExpr": "toString(datum.value)"}},
    "y2": {"datum": 0},
    "color": {"condition": {"test": "datum.v > 0", "value": "#b4c7e7"}, "value": "#ff0000"}}},
  {"data": {"values": [{"t":2003,"v":-0.2},{"t":2021.43,"v":0.17}]}, "mark": {"type": "line", "color": "#404040", "opacity": 0.75, "strokeWidth": 7, "strokeCap": "butt"}, "encoding": {"x": {"field": "t", "type": "quantitative"}, "y": {"field": "v", "type": "quantitative"}}},
  {"data": {"values": [{}]}, "mark": {"type": "point", "shape": "M-1,-0.6L1,0L-1,0.6Z", "size": 400, "filled": true, "color": "#404040", "opacity": 0.75, "angle": -3.1}, "encoding": {"x": {"datum": 2021.92}, "y": {"datum": 0.185}}},
  {"data": {"values": [{}]}, "mark": {"type": "text", "text": "RICRAN", "font": "Liberation Serif", "fontSize": 24, "fontWeight": "bold", "color": "#595959", "align": "center", "baseline": "middle"}, "encoding": {"x": {"datum": 2011.33}, "y": {"datum": 2.85}}},
  {"data": {"values": [{}]}, "mark": {"type": "rect", "filled": false, "stroke": "#2e7dd1", "strokeWidth": 1.5, "clip": true}, "encoding": {"x": {"datum": 2015.79}, "x2": {"datum": 2030}, "y": {"datum": -3.03}, "y2": {"datum": -6}}},
  {"data": {"values": [{}]}, "mark": {"type": "text", "text": "y = 0.0018x - 0.2118", "font": "Liberation Serif", "fontSize": 20, "color": "#595959", "align": "center", "baseline": "middle"}, "encoding": {"x": {"datum": 2020.04}, "y": {"datum": -3.32}}},
  {"data": {"values": [{}]}, "mark": {"type": "text", "text": "R² = 0.0166", "font": "Liberation Serif", "fontSize": 20, "color": "#595959", "align": "center", "baseline": "middle"}, "encoding": {"x": {"datum": 2020.04}, "y": {"datum": -3.72}}}
 ]
}
]
}
